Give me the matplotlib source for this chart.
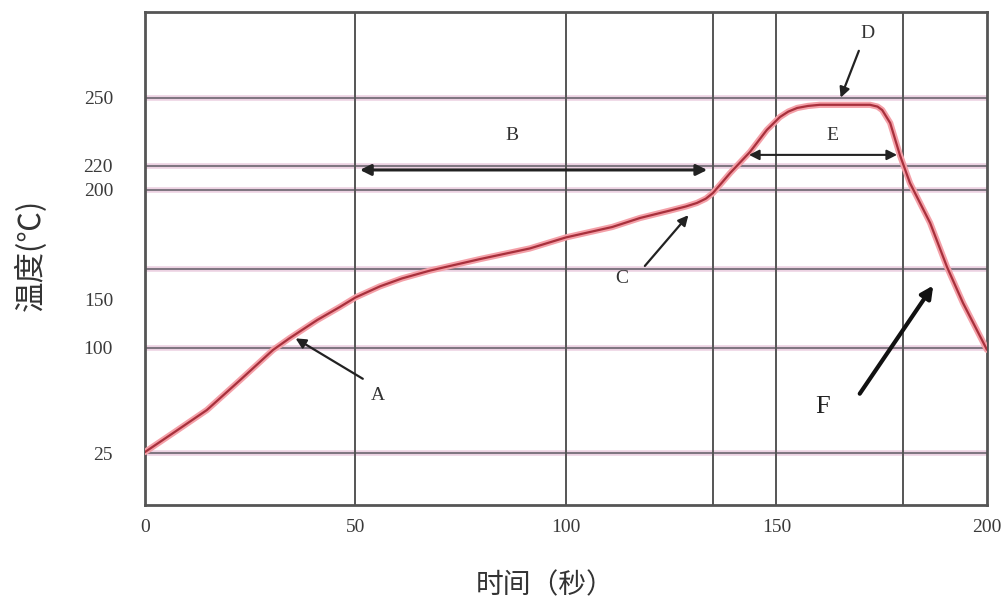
import numpy as np
import matplotlib.pyplot as plt
from matplotlib.transforms import ScaledTranslation

# reflow profile: time (s) vs temperature (C)
time_s = [0, 6.7, 14.7, 22.6, 30.4, 34.4, 40.9, 46.3, 50, 55.8, 61, 67.7, 79.6,
          91.4, 100, 111, 117.6, 124.7, 128.5, 131.1, 133.2, 134.9, 137, 139, 143.7,
          147.7, 150.8, 152.8, 154.9, 157.5, 160.3, 165.1, 170, 172.2, 174, 175.1, 177,
          179.3, 181.7, 186.5, 190.5, 194.3, 200]
temp_c = [25.7, 39.3, 55.7, 77.1, 98.6, 106.3, 117.7, 126, 132, 139, 144, 149, 156.3,
          163, 170, 176.6, 182.3, 187, 189.6, 191.8, 194.5, 198.1, 206, 214.2, 226.2,
          235.9, 241.6, 244, 245.6, 246.5, 247, 247, 247, 247, 246.2, 244.7, 239,
          224.9, 205.8, 179.1, 151.3, 128.5, 98.7]

x_ticks = [0, 50, 100, 150, 200]
y_ticks = [25, 100, 150, 200, 220, 250]
v_grid = [50, 100, 135, 150, 180]

# the y axis of the original is not linear: piecewise map temperature -> height
knot_t = [-12, 25, 100, 200, 220, 250, 288]
knot_h = [0, 52, 157, 315, 339, 407, 493]


def fwd(t):
    return np.interp(t, knot_t, knot_h)


def inv(h):
    return np.interp(h, knot_h, knot_t)


plt.rcParams['font.family'] = ['Liberation Serif', 'DejaVu Serif']
fig = plt.figure(figsize=(10.03, 6.04), dpi=100)
ax = fig.add_axes([145 / 1003, 99 / 604, 842 / 1003, 493 / 604])
ax.set_yscale('function', functions=(fwd, inv))
ax.set_xlim(0, 200)
ax.set_ylim(-12, 288)

for t in y_ticks:
    ax.axhline(t, color='#ecd2e2', lw=4, zorder=1)
    ax.axhline(t, color='#7d7580', lw=1.4, zorder=1)
for t in v_grid:
    ax.axvline(t, color='#555555', lw=1.4, zorder=1)

ax.plot(time_s, temp_c, color='#f4a0a8', lw=4.5, zorder=3,
        solid_capstyle='round', solid_joinstyle='round')
ax.plot(time_s, temp_c, color='#a8303c', lw=1.6, zorder=4,
        solid_capstyle='round', solid_joinstyle='round')

ax.set_xticks(x_ticks)
ax.set_yticks(y_ticks)
ax.set_yticklabels([str(v) for v in y_ticks])
ax.tick_params(axis='both', length=0, labelsize=14, colors='#3a3a3a')
ax.tick_params(axis='y', pad=23)
ax.tick_params(axis='x', pad=10)
# the "150" label sits lower than its gridline in the original
for lab in ax.get_yticklabels():
    if lab.get_text() == '150':
        lab.set_transform(lab.get_transform() + ScaledTranslation(0, -0.30, fig.dpi_scale_trans))

for s in ax.spines.values():
    s.set_color('#555555')
    s.set_linewidth(2)

# annotations
arr = dict(arrowstyle='-|>', color='#222222', lw=1.6, mutation_scale=15)
ax.annotate('', xy=(35.2, 107), xytext=(52.3, 77), arrowprops=arr, zorder=5)
ax.text(55.3, 66, 'A', fontsize=14, ha='center', va='center', color='#333333')

ax.annotate('', xy=(50.4, 216.7), xytext=(134.2, 216.7),
            arrowprops=dict(arrowstyle='<|-|>', color='#222222', lw=2.2, mutation_scale=16))
ax.text(87.2, 233.5, 'B', fontsize=14, ha='center', va='center', color='#333333')

ax.annotate('', xy=(129.5, 185.4), xytext=(118.3, 150.6), arrowprops=arr, zorder=5)
ax.text(113.3, 144.3, 'C', fontsize=14, ha='center', va='center', color='#333333')

ax.annotate('', xy=(165, 249), xytext=(169.8, 272), arrowprops=arr, zorder=5)
ax.text(171.5, 278.7, 'D', fontsize=14, ha='center', va='center', color='#333333')

ax.annotate('', xy=(142.8, 224.9), xytext=(179.3, 224.9),
            arrowprops=dict(arrowstyle='<|-|>', color='#222222', lw=1.5, mutation_scale=15),
            zorder=5)
ax.text(163.2, 233.5, 'E', fontsize=14, ha='center', va='center', color='#333333')

ax.annotate('', xy=(187.6, 141), xytext=(169.4, 65.7),
            arrowprops=dict(arrowstyle='-|>', color='#111111', lw=3, mutation_scale=18),
            zorder=5)
ax.text(161, 57.9, 'F', fontsize=19, ha='center', va='center', color='#222222')

cjk = ['Noto Sans CJK SC', 'DejaVu Sans']
fig.text(31 / 1003, 1 - 255 / 604, '温度(℃)', rotation=90, ha='center', va='center',
         fontsize=22, family=cjk, color='#333333')
fig.text(545 / 1003, 1 - 585 / 604, '时间（秒）', ha='center', va='center',
         fontsize=20, family=cjk, color='#333333')

fig.savefig('out.png', dpi=100, facecolor='white')
